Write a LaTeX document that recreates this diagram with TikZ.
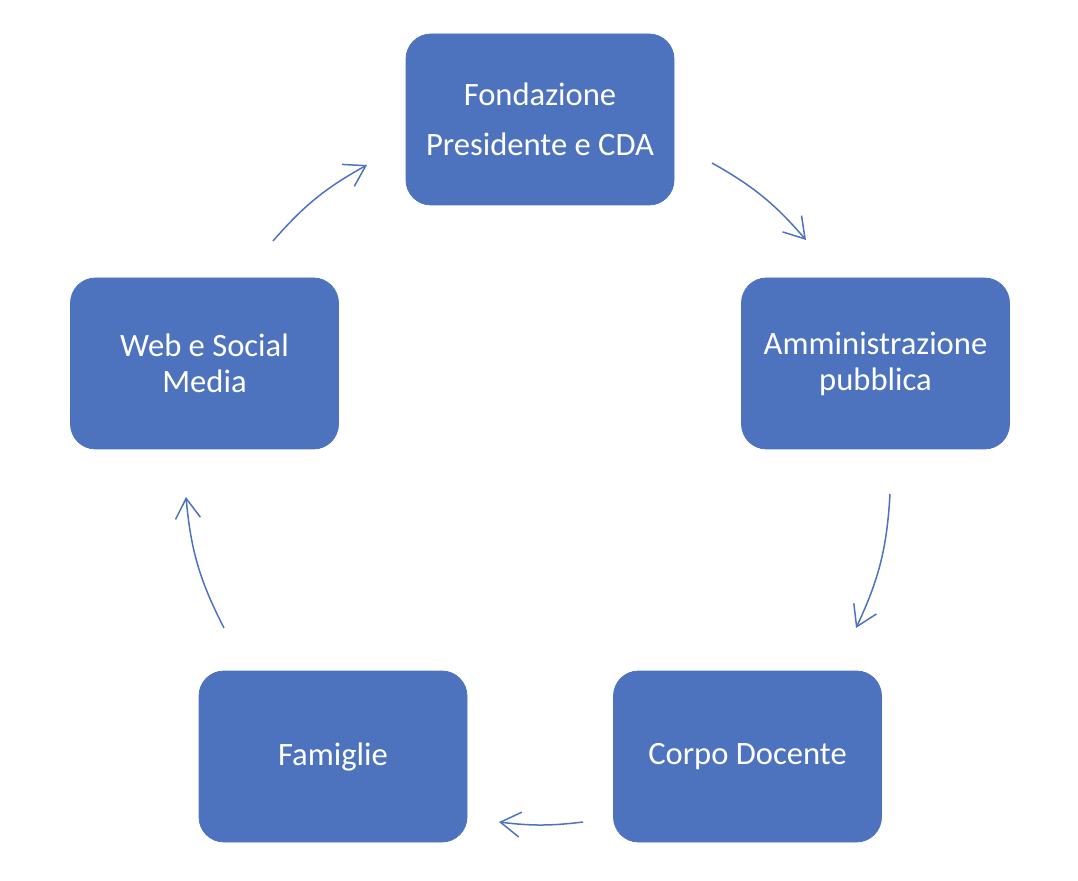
\documentclass[tikz,border=0pt]{standalone}
\usepackage{fontspec}
\setmainfont{Carlito}
\usetikzlibrary{arrows.meta}
\definecolor{boxblue}{HTML}{4E73BE}

\begin{document}
\begin{tikzpicture}
  [x=0.5pt,y=0.5pt]
      \tikzset{box_style/.style={fill=boxblue, draw=boxblue, rounded corners=12.5pt,
          minimum width=134pt, minimum height=85.5pt, align=center, text=white,
          font=\fontsize{16.3}{18}\selectfont},
        edge_style/.style={draw=boxblue, line width=0.75pt,
          -{Straight Barb[length=10pt,width=12.5pt]}}}
  \useasboundingbox (0,0) rectangle (1078,880);
  \node[box_style] (n0) at (540, 760.5) {Fondazione\\[7pt]Presidente e CDA};
  \node[box_style] (n1) at (875.5, 516.5) {Amministrazione\\pubblica};
  \node[box_style] (n2) at (747.5, 123.5) {Corpo Docente};
  \node[box_style] (n3) at (333, 123.5) {Famiglie};
  \node[box_style] (n4) at (204.5, 516.5) {Web e Social\\Media};
  \coordinate (a0) at (712, 717);
  \coordinate (b0) at (806, 640);
  \coordinate (a1) at (890, 386);
  \coordinate (b1) at (856, 252);
  \coordinate (a2) at (583, 58);
  \coordinate (b2) at (499, 58);
  \coordinate (a3) at (224, 252);
  \coordinate (b3) at (186, 383);
  \coordinate (a4) at (273, 639);
  \coordinate (b4) at (367, 715);
  \draw[edge_style] (a0) to[bend left=10] (b0);
  \draw[edge_style] (a1) to[bend left=11] (b1);
  \draw[edge_style] (a2) to[bend left=7] (b2);
  \draw[edge_style] (a3) to[bend left=11] (b3);
  \draw[edge_style] (a4) to[bend left=10] (b4);
\end{tikzpicture}
\end{document}
